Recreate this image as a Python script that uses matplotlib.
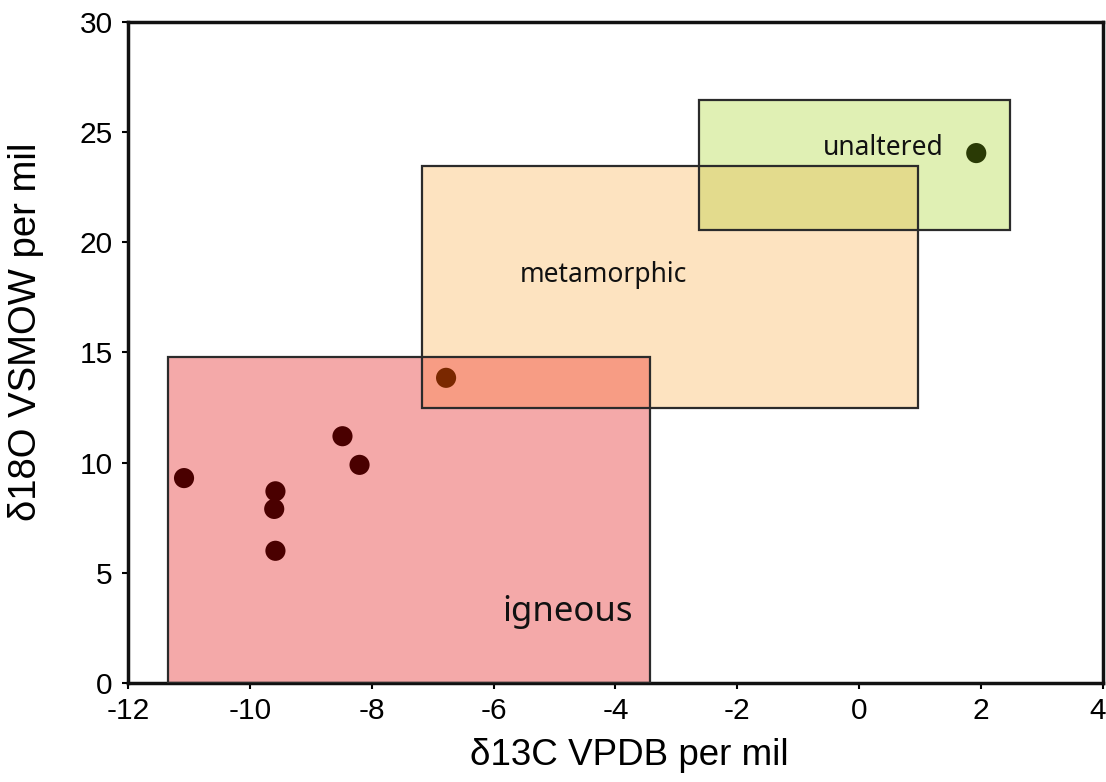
import matplotlib
matplotlib.use("Agg")
import matplotlib.pyplot as plt
from matplotlib.patches import Rectangle
from matplotlib.transforms import ScaledTranslation

# Isotope fields: (name, x0, x1, y0, y1)
field_names = ["igneous", "metamorphic", "unaltered"]
field_x0 = [-11.35, -7.18, -2.63]
field_x1 = [-3.43, 0.97, 2.47]
field_y0 = [0.0, 12.5, 20.55]
field_y1 = [14.8, 23.45, 26.45]
field_colors = ["#f4a9a9", "#fde3c0", "#e0f0b4"]

# Field label placement
label_x = [-4.78, -4.2, 0.4]
label_y = [3.2, 18.5, 24.3]
label_sizes = [25, 19, 19]

# Samples
d13c = [-11.08, -9.58, -9.6, -9.58, -8.48, -8.2, -6.78, 1.92]
d18o = [9.3, 8.7, 7.9, 6.0, 11.2, 9.9, 13.85, 24.05]
pt_colors = ["#4a0000"] * 6 + ["#7a2800", "#2a3a05"]

xticks = [-12, -10, -8, -6, -4, -2, 0, 2, 4]
yticks = [0, 5, 10, 15, 20, 25, 30]

plt.rcParams["font.family"] = ["Liberation Sans", "DejaVu Sans"]
plt.rcParams["axes.unicode_minus"] = False

fig = plt.figure(figsize=(11.06, 7.82), dpi=100)
ax = fig.add_axes([0.1157, 0.1266, 0.8816, 0.8453])


def hex2rgb(h):
    h = h.lstrip("#")
    return [int(h[i:i + 2], 16) / 255 for i in (0, 2, 4)]


# Filled fields
for i in range(len(field_names)):
    ax.add_patch(Rectangle((field_x0[i], field_y0[i]),
                           field_x1[i] - field_x0[i], field_y1[i] - field_y0[i],
                           facecolor=field_colors[i], edgecolor="none", zorder=1))

# Overlaps shaded with multiplied colours
for i in range(len(field_names)):
    for j in range(i + 1, len(field_names)):
        ox0 = max(field_x0[i], field_x0[j])
        ox1 = min(field_x1[i], field_x1[j])
        oy0 = max(field_y0[i], field_y0[j])
        oy1 = min(field_y1[i], field_y1[j])
        if ox1 > ox0 and oy1 > oy0:
            c = [min(1.0, a * b + 0.02) for a, b in
                 zip(hex2rgb(field_colors[i]), hex2rgb(field_colors[j]))]
            ax.add_patch(Rectangle((ox0, oy0), ox1 - ox0, oy1 - oy0,
                                   facecolor=c, edgecolor="none", zorder=2))

# Field outlines
for i in range(len(field_names)):
    ax.add_patch(Rectangle((field_x0[i], field_y0[i]),
                           field_x1[i] - field_x0[i], field_y1[i] - field_y0[i],
                           facecolor="none", edgecolor="#2b2b2b", linewidth=1.6, zorder=3))

for name, lx, ly, fs in zip(field_names, label_x, label_y, label_sizes):
    ax.text(lx, ly, name, ha="center", va="center", fontsize=fs,
            family=["Noto Sans", "DejaVu Sans"], color="#111111", zorder=4)

ax.scatter(d13c, d18o, s=210, c=pt_colors, edgecolors="none", zorder=5)

ax.set_xlim(-12, 4)
ax.set_ylim(0, 30)
ax.set_xticks(xticks)
ax.set_yticks(yticks)
ax.tick_params(axis="both", direction="out", length=4, width=1.5, labelsize=21.5)
ax.tick_params(axis="y", pad=7)
ax.tick_params(axis="x", pad=6)

# keep the last x tick label inside the figure
last = ax.get_xticklabels()[-1]
last.set_transform(last.get_transform() + ScaledTranslation(-5 / 100, 0, fig.dpi_scale_trans))

for sp in ax.spines.values():
    sp.set_linewidth(2.5)
    sp.set_color("#111111")

ax.set_xlabel("δ13C VPDB per mil", fontsize=26.5)
ax.set_ylabel("δ18O VSMOW per mil", fontsize=27.5)
ax.xaxis.set_label_coords(0.514, -0.083)
ax.yaxis.set_label_coords(-0.086, 0.532)

fig.savefig("out.png", dpi=100)
